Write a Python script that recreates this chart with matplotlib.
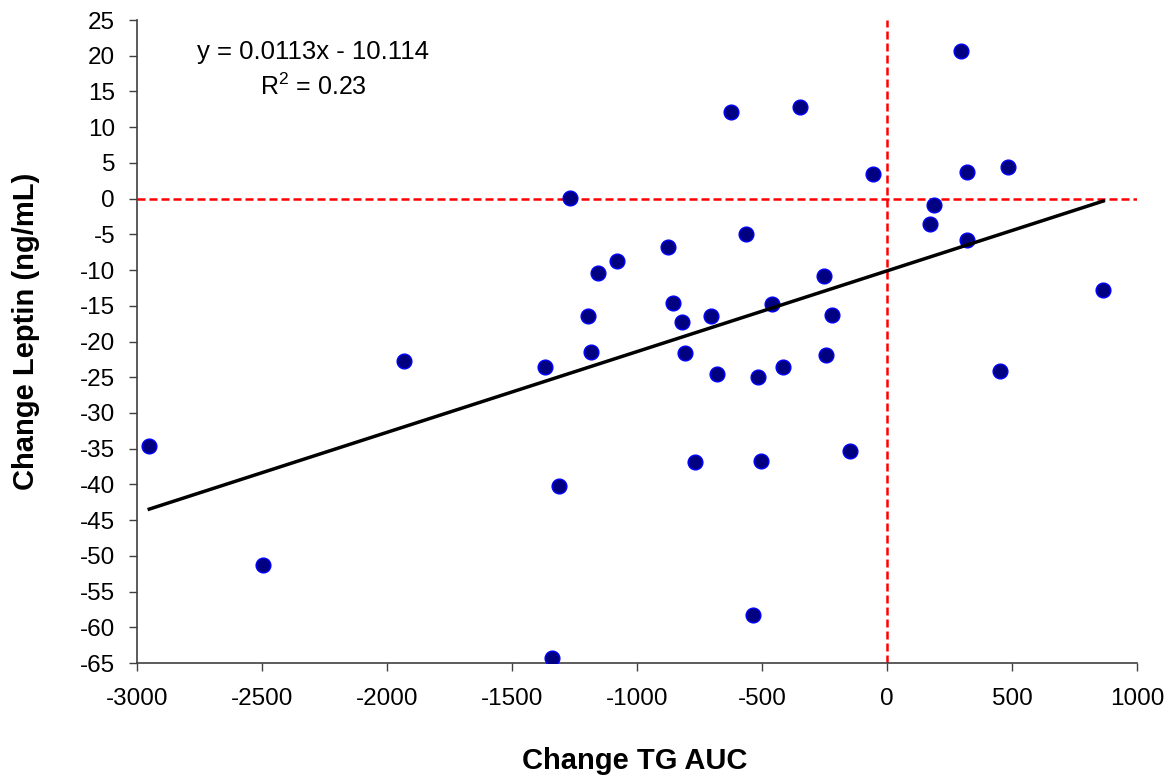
import numpy as np
import matplotlib
matplotlib.use('Agg')
import matplotlib.pyplot as plt

plt.rcParams['font.family'] = ['Liberation Sans', 'DejaVu Sans']
plt.rcParams['mathtext.fontset'] = 'custom'
plt.rcParams['mathtext.rm'] = 'Liberation Sans'
plt.rcParams['axes.unicode_minus'] = False

# change in TG AUC vs change in leptin
tg_auc = [-2951, -2495, -1932, -1368, -1313, -1340, -1268, -1195, -1183, -1156,
          -1080, -877, -858, -820, -808, -768, -624, -704, -680, -565,
          -536, -517, -504, -459, -417, -347, -252, -243, -221, -147,
          -56, 172, 188, 296, 320, 320, 452, 484, 865]
leptin = [-34.6, -51.3, -22.7, -23.5, -40.2, -64.3, 0.1, -16.5, -21.4, -10.4,
          -8.75, -6.8, -14.6, -17.3, -21.65, -36.8, 12.1, -16.5, -24.6, -4.9,
          -58.3, -24.9, -36.7, -14.8, -23.5, 12.8, -10.9, -21.9, -16.3, -35.3,
          3.5, -3.5, -0.94, 20.6, 3.7, -5.85, -24.1, 4.4, -12.8]

slope = 0.0113
intercept = -10.114
x_ticks = list(range(-3000, 1001, 500))
y_ticks = list(range(-65, 26, 5))

fig = plt.figure(figsize=(11.68, 7.79), dpi=100)
ax = fig.add_axes([137 / 1168, 1 - 663 / 779, 1000 / 1168, 643 / 779])

ax.axhline(0, color='#ff0000', lw=1.8, dashes=(3.2, 1.6), zorder=1)
ax.axvline(0, color='#ff0000', lw=1.8, dashes=(3.2, 1.6), zorder=1)

ax.plot(tg_auc, leptin, 'o', ms=10.6, mfc='#000080', mec='#0000ff', mew=1.0,
        zorder=3)

xfit = np.array([min(tg_auc), max(tg_auc)])
ax.plot(xfit, slope * xfit + intercept, color='black', lw=2.5, zorder=4)

ax.text(-2296, 20.5, 'y = 0.0113x - 10.114', ha='center', va='center',
        fontsize=18.5)
ax.text(-2296, 15.6, 'R$^2$ = 0.23', ha='center', va='center', fontsize=18)

ax.set_xlim(-3000, 1000)
ax.set_ylim(-65, 25)
ax.set_xticks(x_ticks)
ax.set_yticks(y_ticks)
ax.tick_params(direction='out', length=5.8, width=1.0, color='#404040',
               labelsize=17.5)
ax.tick_params(axis='x', pad=12.5)
ax.tick_params(axis='y', pad=10)

for side in ['top', 'right']:
    ax.spines[side].set_visible(False)
for side in ['left', 'bottom']:
    ax.spines[side].set_color('#404040')
    ax.spines[side].set_linewidth(1.2)

ax.set_xlabel('Change TG AUC', fontsize=21, fontweight='bold')
ax.set_ylabel('Change Leptin (ng/mL)', fontsize=21, fontweight='bold')
ax.xaxis.set_label_coords(0.498, -0.131)
ax.yaxis.set_label_coords(-0.097, 0.516)

fig.savefig('out.png', dpi=100)
